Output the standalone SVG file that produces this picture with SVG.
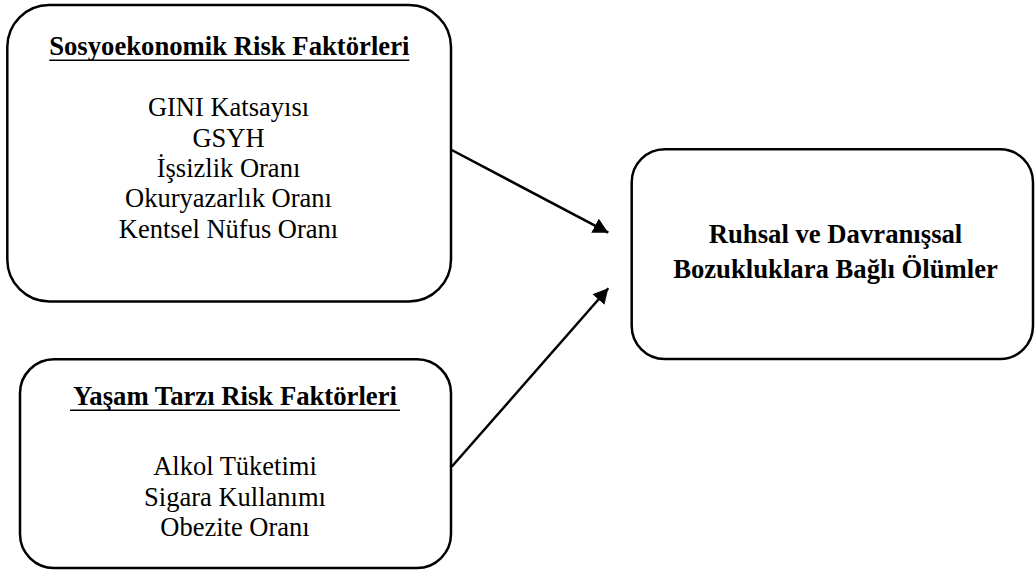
<svg xmlns="http://www.w3.org/2000/svg" width="1036" height="571" viewBox="0 0 1036 571">
<style>
.box{fill:#fff;stroke:#000;stroke-width:2.5}
.t{font-family:"Liberation Serif","Times New Roman",serif;font-size:26.5px;fill:#000;text-anchor:middle}
.b{font-weight:bold;font-size:26.7px}
.ul{stroke:#000;stroke-width:1.6}
.conn{stroke:#000;stroke-width:2.5;fill:none}
</style>
<defs>
<marker id="ah" markerUnits="userSpaceOnUse" markerWidth="16" markerHeight="18" refX="15" refY="8" orient="auto">
<path d="M0,0 L15,8 L0,16 Z" fill="#000"/>
</marker>
</defs>
<rect width="1036" height="571" fill="#fff"/>
<g id="connectors">
<line class="conn" x1="451.7" y1="150" x2="608.3" y2="232.7" marker-end="url(#ah)"/>
<line class="conn" x1="451.7" y1="466.7" x2="608.3" y2="288.3" marker-end="url(#ah)"/>
</g>
<g id="sosyoekonomik">
<rect class="box" x="7.3" y="5" width="443.7" height="296.5" rx="42" ry="42"/>
<text class="t b" x="229.3" y="55">Sosyoekonomik Risk Faktörleri</text>
<line class="ul" x1="49.3" y1="60.2" x2="409.3" y2="60.2"/>
<text class="t" x="228.5" y="116">GINI Katsayısı</text>
<text class="t" x="228.5" y="146.7">GSYH</text>
<text class="t" x="228.5" y="177">İşsizlik Oranı</text>
<text class="t" x="228.5" y="207.3">Okuryazarlık Oranı</text>
<text class="t" x="228.5" y="238">Kentsel Nüfus Oranı</text>
</g>
<g id="yasam">
<rect class="box" x="20" y="359.3" width="431" height="208.7" rx="34" ry="34"/>
<text class="t b" x="235" y="405">Yaşam Tarzı Risk Faktörleri</text>
<line class="ul" x1="70" y1="410.2" x2="400" y2="410.2"/>
<text class="t" x="235" y="475">Alkol Tüketimi</text>
<text class="t" x="235" y="505.5">Sigara Kullanımı</text>
<text class="t" x="235" y="536">Obezite Oranı</text>
</g>
<g id="olumler">
<rect class="box" x="631.7" y="149.3" width="401.3" height="209.7" rx="33" ry="33"/>
<text class="t b" x="835.5" y="242.7">Ruhsal ve Davranışsal</text>
<text class="t b" x="835.5" y="278.3">Bozukluklara Bağlı Ölümler</text>
</g>
</svg>
